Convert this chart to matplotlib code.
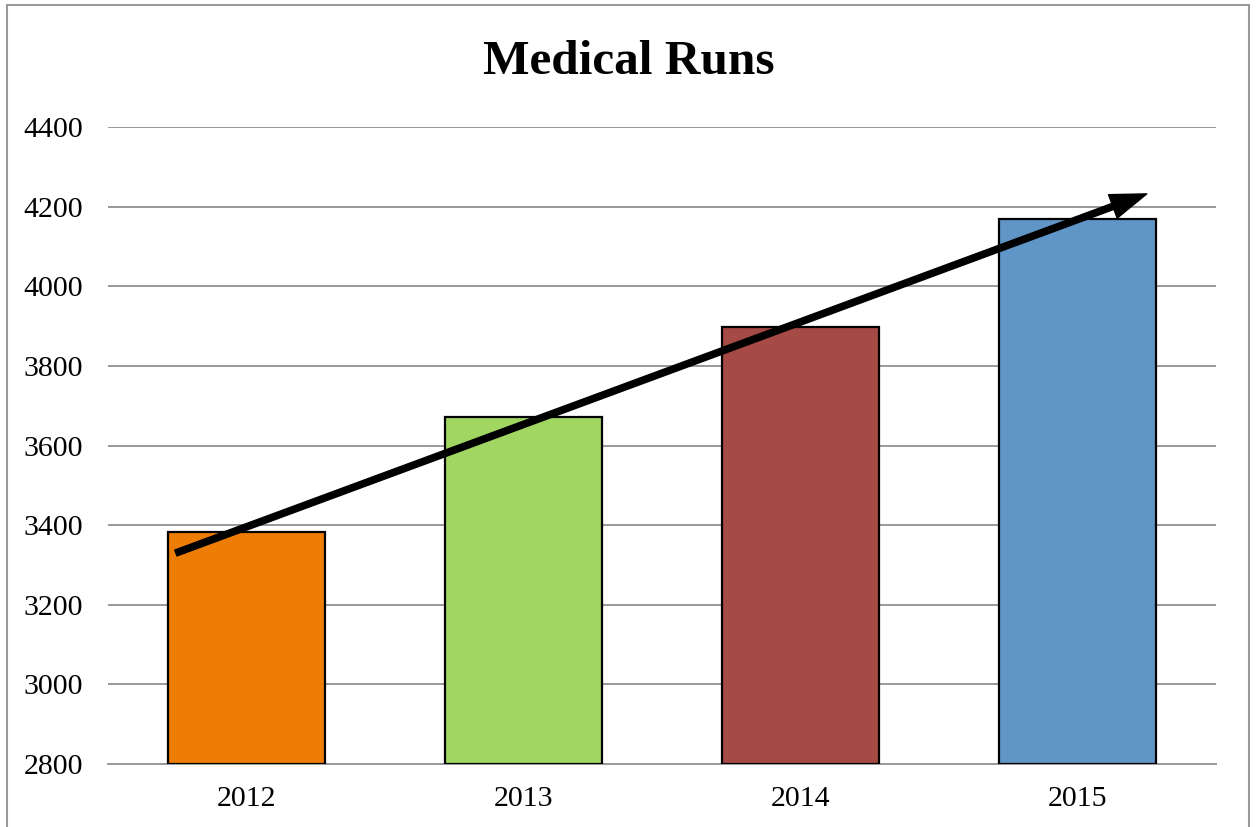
import matplotlib
matplotlib.use("Agg")
import matplotlib.pyplot as plt
from matplotlib.patches import Rectangle

years = ["2012", "2013", "2014", "2015"]
runs = [3383, 3672, 3898, 4169]
colors = ["#ED7D05", "#A2D663", "#A54A44", "#6095C8"]
yticks = [2800, 3000, 3200, 3400, 3600, 3800, 4000, 4200, 4400]

# trend arrow, in data units (x = category position)
arrow_start = (-0.255, 3330)
arrow_end = (3.25, 4232)

plt.rcParams['font.family'] = ['Liberation Serif', 'DejaVu Serif']

fig = plt.figure(figsize=(12.57, 8.27), dpi=100)
ax = fig.add_axes([108/1257, 1 - 764/827, (1216-108)/1257, (764-127)/827])

x = range(len(years))
ax.bar(x, [r - yticks[0] for r in runs], bottom=yticks[0], width=0.57,
       color=colors, edgecolor="black", linewidth=1.6, zorder=3)

ax.set_xlim(-0.5, 3.5)
ax.set_ylim(yticks[0], yticks[-1])
ax.set_yticks(yticks)
ax.set_xticks(list(x))
ax.set_xticklabels(years)
ax.tick_params(axis="both", length=0, labelsize=21.5)
ax.tick_params(axis="x", pad=16)
ax.tick_params(axis="y", pad=18)
ax.grid(axis="y", color="#999999", linewidth=1.4, zorder=0)
for s in ["top", "right", "left"]:
    ax.spines[s].set_visible(False)
ax.spines["bottom"].set_color("#999999")
ax.spines["bottom"].set_linewidth(1.4)

ax.annotate("", xy=arrow_end, xytext=arrow_start,
            arrowprops=dict(width=4.5, headwidth=18, headlength=26,
                            facecolor="black", edgecolor="black",
                            shrink=0),
            zorder=5)

fig.text(629/1257, 1 - 62/827, "Medical Runs", ha="center", va="center",
         fontsize=35.5, fontweight="bold")

# outer chart border (bottom edge cut off)
fig.add_artist(Rectangle((7/1257, -0.05), (1249-7)/1257, 1.05 - 5/827,
                         transform=fig.transFigure, fill=False,
                         edgecolor="#999999", linewidth=1.5))

fig.savefig("out.png", dpi=100)
